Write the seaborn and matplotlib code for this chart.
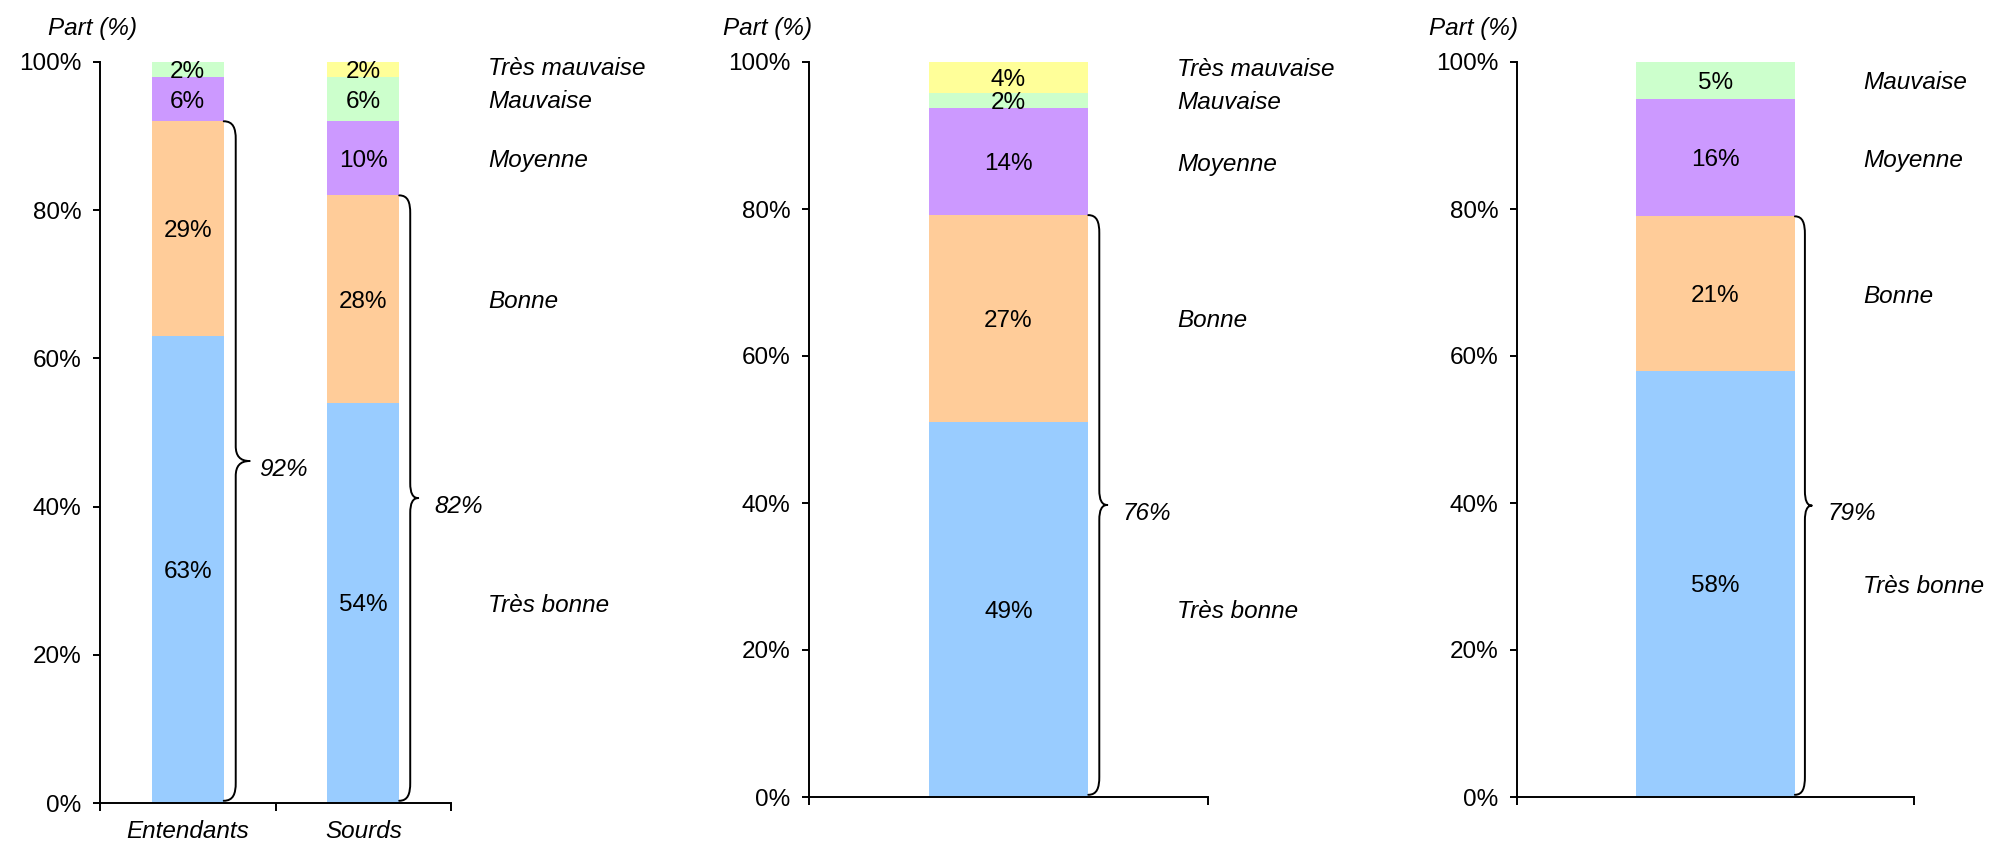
import numpy as np
import pandas as pd
import matplotlib
matplotlib.use("Agg")
import matplotlib.pyplot as plt
from matplotlib.path import Path
from matplotlib.patches import PathPatch
import seaborn as sns

# ---------------- data ----------------
levels = ["Très bonne", "Bonne", "Moyenne", "Mauvaise", "Très mauvaise"]
level_colors = ["#99CCFF", "#FFCC99", "#CC99FF", "#CCFFCC", "#FFFF99"]

p1_groups = ["Entendants", "Sourds"]
p1_tres_bonne = [63, 54]
p1_bonne = [29, 28]
p1_moyenne = [6, 10]
p1_mauvaise = [2, 6]
p1_tres_mauvaise = [0, 2]
p1_brace = [92, 82]

p2_groups = ["Ensemble A"]
p2_tres_bonne = [49]
p2_bonne = [27]
p2_moyenne = [14]
p2_mauvaise = [2]
p2_tres_mauvaise = [4]
p2_brace = [76]

p3_groups = ["Ensemble B"]
p3_tres_bonne = [58]
p3_bonne = [21]
p3_moyenne = [16]
p3_mauvaise = [5]
p3_tres_mauvaise = [0]
p3_brace = [79]

y_ticks = [0, 20, 40, 60, 80, 100]
y_tick_labels = ["0%", "20%", "40%", "60%", "80%", "100%"]
y_title = "Part (%)"

panels = [
    dict(groups=p1_groups,
         series=[p1_tres_bonne, p1_bonne, p1_moyenne, p1_mauvaise, p1_tres_mauvaise],
         brace=p1_brace, show_groups=True),
    dict(groups=p2_groups,
         series=[p2_tres_bonne, p2_bonne, p2_moyenne, p2_mauvaise, p2_tres_mauvaise],
         brace=p2_brace, show_groups=False),
    dict(groups=p3_groups,
         series=[p3_tres_bonne, p3_bonne, p3_moyenne, p3_mauvaise, p3_tres_mauvaise],
         brace=p3_brace, show_groups=False),
]

# ---------------- layout ----------------
W, H = 1996, 857
layout = [
    dict(rect=[100 / W, 1 - 803 / H, 351 / W, 741 / H], bar_w=0.41, label_dx=89,
         title_dx=-5, title_ha="center", brace=[(12, 26, 35), (11, 19, 35)]),
    dict(rect=[809 / W, 1 - 797 / H, 399 / W, 735 / H], bar_w=0.40, label_dx=89,
         title_dx=2, title_ha="right", brace=[(11, 19, 34)]),
    dict(rect=[1517 / W, 1 - 797 / H, 397 / W, 735 / H], bar_w=0.40, label_dx=68,
         title_dx=1, title_ha="right", brace=[(10, 17, 33)]),
]

sns.set_style("ticks")
plt.rcParams["font.family"] = ["Liberation Sans", "DejaVu Sans"]
plt.rcParams["axes.linewidth"] = 1.4
for key in ["text.color", "axes.labelcolor", "xtick.color", "ytick.color",
            "axes.edgecolor", "xtick.labelcolor", "ytick.labelcolor"]:
    plt.rcParams[key] = "black"
FS = 17.5

fig = plt.figure(figsize=(W / 100, H / 100), dpi=100)


def draw_brace(ax, x_edge, y_top, y_bot, w_px, tip_px, ppu_x, ppu_y):
    def X(px):
        return x_edge + px / ppu_x
    ry = 18 / ppu_y
    ty = 15 / ppu_y
    ym = (y_top + y_bot) / 2
    w, t = w_px, tip_px
    verts = [
        (X(0), y_top),
        (X(w * 0.8), y_top), (X(w), y_top - ry * 0.4), (X(w), y_top - ry),
        (X(w), ym + ty),
        (X(w), ym + ty * 0.35), (X(w + (t - w) * 0.3), ym), (X(t), ym),
        (X(w + (t - w) * 0.3), ym), (X(w), ym - ty * 0.35), (X(w), ym - ty),
        (X(w), y_bot + ry),
        (X(w), y_bot + ry * 0.4), (X(w * 0.8), y_bot), (X(0), y_bot),
    ]
    codes = [Path.MOVETO,
             Path.CURVE4, Path.CURVE4, Path.CURVE4,
             Path.LINETO,
             Path.CURVE4, Path.CURVE4, Path.CURVE4,
             Path.CURVE4, Path.CURVE4, Path.CURVE4,
             Path.LINETO,
             Path.CURVE4, Path.CURVE4, Path.CURVE4]
    patch = PathPatch(Path(verts, codes), facecolor="none", edgecolor="black",
                      lw=1.4, clip_on=False, capstyle="round", joinstyle="round")
    ax.add_patch(patch)
    return ym


for spec, lay in zip(panels, layout):
    ax = fig.add_axes(lay["rect"])
    groups = spec["groups"]
    n = len(groups)
    mat = np.array(spec["series"], dtype=float)
    totals = mat.sum(axis=0)
    norm = mat / totals * 100.0
    cum = np.cumsum(norm, axis=0)
    bottoms = np.zeros(n)
    for i, lvl in enumerate(levels):
        df = pd.DataFrame({"group": groups, "share": norm[i]})
        sns.barplot(data=df, x="group", y="share", order=groups,
                    color=level_colors[i], saturation=1, width=lay["bar_w"],
                    bottom=bottoms.copy(), errorbar=None, linewidth=0, ax=ax)
        for j in range(n):
            if mat[i, j] > 0:
                ax.text(j, bottoms[j] + norm[i, j] / 2, f"{int(mat[i, j])}%",
                        ha="center", va="center_baseline", fontsize=FS,
                        color="black")
        bottoms = bottoms + norm[i]

    ax.set_xlim(-0.5, n - 0.5)
    ax.set_ylim(0, 100)
    ax.set_xlabel("")
    ax.set_ylabel("")

    fig_w_px = W * lay["rect"][2]
    fig_h_px = H * lay["rect"][3]
    ppu_x = fig_w_px / n
    ppu_y = fig_h_px / 100.0
    half = lay["bar_w"] / 2

    # category labels on the right, at mid-segments of the last bar
    last = n - 1
    mids = cum[:, last] - norm[:, last] / 2
    ypos = mids.copy()
    for i in range(1, len(levels)):
        if ypos[i] - ypos[i - 1] < 4.5:
            ypos[i] = ypos[i - 1] + 4.5
    for i, lvl in enumerate(levels):
        if mat[i, last] > 0:
            ax.text(last + half + lay["label_dx"] / ppu_x, ypos[i], lvl,
                    ha="left", va="center_baseline", fontsize=FS, style="italic",
                    color="black", clip_on=False)

    # braces covering "Très bonne" + "Bonne"
    for j in range(n):
        w_px, tip_px, txt_px = lay["brace"][j]
        top = cum[1, j]
        ym = draw_brace(ax, j + half, top, 0.3, w_px, tip_px, ppu_x, ppu_y)
        ax.text(j + half + txt_px / ppu_x, ym - 0.8, f"{spec['brace'][j]}%",
                ha="left", va="center_baseline", fontsize=FS, style="italic",
                color="black", clip_on=False)

    # axes styling
    ax.set_yticks(y_ticks)
    ax.set_yticklabels(y_tick_labels)
    ax.tick_params(axis="y", direction="out", length=5.3, width=1.4,
                   labelsize=FS, pad=8, colors="black")
    ax.set_xticks(np.arange(n + 1) - 0.5)
    ax.set_xticklabels([])
    ax.tick_params(axis="x", which="major", direction="out", length=6,
                   width=1.4, colors="black")
    if spec["show_groups"]:
        ax.set_xticks(np.arange(n), minor=True)
        ax.set_xticklabels(groups, minor=True, fontsize=FS, style="italic",
                           color="black")
        ax.tick_params(axis="x", which="minor", length=0, pad=12)
    sns.despine(ax=ax)
    for s in ["left", "bottom"]:
        ax.spines[s].set_linewidth(1.4)
        ax.spines[s].set_color("black")
    ax.grid(False)

    ax.annotate(y_title, xy=(0, 1), xycoords="axes fraction",
                xytext=(lay["title_dx"], 24), textcoords="offset points",
                ha=lay["title_ha"], va="center", fontsize=FS, style="italic",
                color="black", annotation_clip=False)

fig.savefig("out.png", dpi=100)
